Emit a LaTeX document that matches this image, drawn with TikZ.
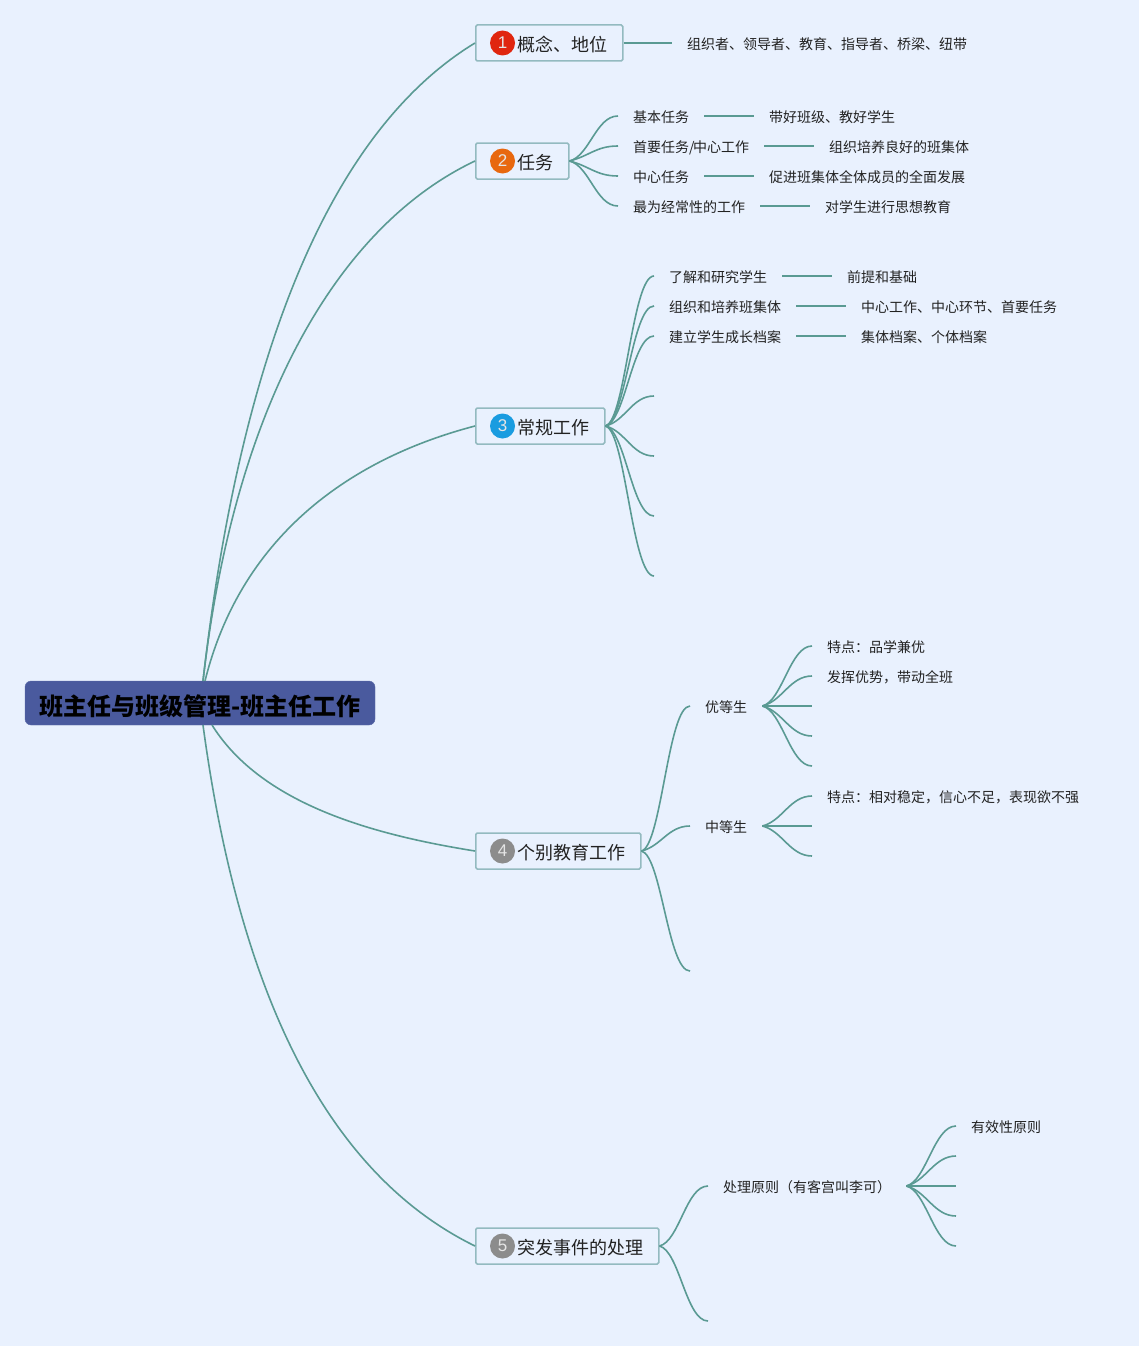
\documentclass[tikz,border=0pt]{standalone}
\usepackage{fontspec}
\setmainfont{Noto Sans CJK SC}
\newfontfamily\badgefont{Liberation Sans}
\definecolor{bgc}{HTML}{E9F1FE}
\definecolor{linec}{HTML}{5A9A93}
\definecolor{boxc}{HTML}{93BAC0}
\definecolor{rootc}{HTML}{4A5A9E}
\definecolor{txtc}{HTML}{222222}
\tikzset{
 conn/.style={draw=linec,line width=1.6pt},
 rootbox/.style={draw=rootc!90!white,fill=rootc,rounded corners=6pt,minimum width=350pt,minimum height=44pt,inner sep=0pt,text height=24pt,text depth=0pt,font=\fontsize{24}{26}\selectfont\bfseries,text=black},
 mainbox/.style={draw=boxc,line width=1.5pt,rounded corners=1.5pt,fill=bgc,minimum height=36pt,inner sep=0pt,anchor=west,font=\fontsize{18}{20}\selectfont,text=txtc},
 maintext/.style={anchor=west,inner sep=0pt,font=\fontsize{18}{20}\selectfont,text=txtc},
 leaf/.style={anchor=west,inner xsep=15pt,inner ysep=0pt,text height=12.8pt,text depth=0pt,font=\fontsize{14}{16}\selectfont,text=txtc},
 badge/.style={circle,minimum size=25pt,inner sep=0pt,text=white!90!black,font=\badgefont\fontsize{17}{18}\selectfont}
}
\newcommand{\upc}[2]{\path[conn] (#1) .. controls +(20,-5) and +(-22,0) .. (#2);}
\newcommand{\downc}[2]{\path[conn] (#1) .. controls +(20,5) and +(-22,0) .. (#2);}
\begin{document}
\begin{tikzpicture}[x=1pt,y=-1pt]
\useasboundingbox[fill=bgc] (0,0) rectangle (1139,1346);
% root
\node[rootbox] (root) at (200,703) {班主任与班级管理-班主任工作};
\coordinate (rt) at (203,681);
\coordinate (rs) at (205,681);
\coordinate (rb) at (203,725);
\coordinate (rc) at (212,725);
% main branches
\node[mainbox,minimum width=147pt] (b1) at (475,43) {};
\node[mainbox,minimum width=93pt] (b2) at (475,161) {};
\node[mainbox,minimum width=129pt] (b3) at (475,426) {};
\node[mainbox,minimum width=165pt] (b4) at (475,851) {};
\node[mainbox,minimum width=183pt] (b5) at (475,1246) {};
\foreach \nn/\tt/\cc in {1/概念、地位/E0260F,2/任务/E8680F,3/常规工作/1A9CE0,4/个别教育工作/8C8C8C,5/突发事件的处理/8C8C8C}{
 \definecolor{tmpc}{HTML}{\cc}
 \node[badge,fill=tmpc] (bd\nn) at ([xshift=27.5pt]b\nn.west) {\nn};
 \node[maintext] (bt\nn) at ([xshift=42pt,yshift=-1.3pt]b\nn.west) {\tt};
}
% root connectors
\path[conn] (rt) .. controls (243,330) and (340,125) .. (b1.west);
\path[conn] (rt) .. controls (235,400) and (340,225) .. (b2.west);
\path[conn] (rs) .. controls (240,540) and (345,460) .. (b3.west);
\path[conn] (rc) .. controls (262,805) and (375,835) .. (b4.west);
\path[conn] (rb) .. controls (240,1000) and (330,1175) .. (b5.west);
% branch 1
\node[leaf] (a1) at (672,43) {组织者、领导者、教育、指导者、桥梁、纽带};
\path[conn] (b1.east) -- (a1.west);
% branch 2
\node[leaf] (c1) at (618,116) {基本任务};
\node[leaf] (c2) at (618,146) {首要任务/\kern-1.5pt 中心工作};
\node[leaf] (c3) at (618,176) {中心任务};
\node[leaf] (c4) at (618,206) {最为经常性的工作};
\node[leaf] (c1a) at (754,116) {带好班级、教好学生};
\node[leaf] (c2a) at (814,146) {组织培养良好的班集体};
\node[leaf] (c3a) at (754,176) {促进班集体全体成员的全面发展};
\node[leaf] (c4a) at (810,206) {对学生进行思想教育};
\upc{b2.east}{c1.west}
\upc{b2.east}{c2.west}
\downc{b2.east}{c3.west}
\downc{b2.east}{c4.west}
\foreach \i in {1,...,4}{\path[conn] (c\i.east) -- (c\i a.west);}
% branch 3
\node[leaf] (d1) at (654,276) {了解和研究学生};
\node[leaf] (d2) at (654,306) {组织和培养班集体};
\node[leaf] (d3) at (654,336) {建立学生成长档案};
\node[leaf] (d1a) at (832,276) {前提和基础};
\node[leaf] (d2a) at (846,306) {中心工作、中心环节、首要任务};
\node[leaf] (d3a) at (846,336) {集体档案、个体档案};
\foreach \i in {1,2,3}{\upc{b3.east}{d\i.west}\path[conn] (d\i.east) -- (d\i a.west);}
\coordinate (d4) at (654,396);
\coordinate (d5) at (654,456);
\coordinate (d6) at (654,516);
\coordinate (d7) at (654,576);
\upc{b3.east}{d4}
\downc{b3.east}{d5}
\downc{b3.east}{d6}
\downc{b3.east}{d7}
% branch 4
\node[leaf] (e1) at (690,706) {优等生};
\node[leaf] (e2) at (690,826) {中等生};
\coordinate (e3) at (690,971);
\upc{b4.east}{e1.west}
\upc{b4.east}{e2.west}
\downc{b4.east}{e3}
\node[leaf] (f1) at (812,646) {特点：品学兼优};
\node[leaf] (f2) at (812,676) {发挥优势，带动全班};
\coordinate (f3) at (812,706);
\coordinate (f4) at (812,736);
\coordinate (f5) at (812,766);
\upc{e1.east}{f1.west}
\upc{e1.east}{f2.west}
\path[conn] (e1.east) -- (f3);
\downc{e1.east}{f4}
\downc{e1.east}{f5}
\node[leaf] (g1) at (812,796) {特点：相对稳定，信心不足，表现欲不强};
\coordinate (g2) at (812,826);
\coordinate (g3) at (812,856);
\upc{e2.east}{g1.west}
\path[conn] (e2.east) -- (g2);
\downc{e2.east}{g3}
% branch 5
\node[leaf] (h1) at (708,1186) {处理原则（有客宫叫李可）};
\coordinate (h2) at (708,1321);
\upc{b5.east}{h1.west}
\downc{b5.east}{h2}
\node[leaf] (i1) at (956,1126) {有效性原则};
\coordinate (i2) at (956,1156);
\coordinate (i3) at (956,1186);
\coordinate (i4) at (956,1216);
\coordinate (i5) at (956,1246);
\upc{h1.east}{i1.west}
\upc{h1.east}{i2}
\path[conn] (h1.east) -- (i3);
\downc{h1.east}{i4}
\downc{h1.east}{i5}
\end{tikzpicture}
\end{document}
